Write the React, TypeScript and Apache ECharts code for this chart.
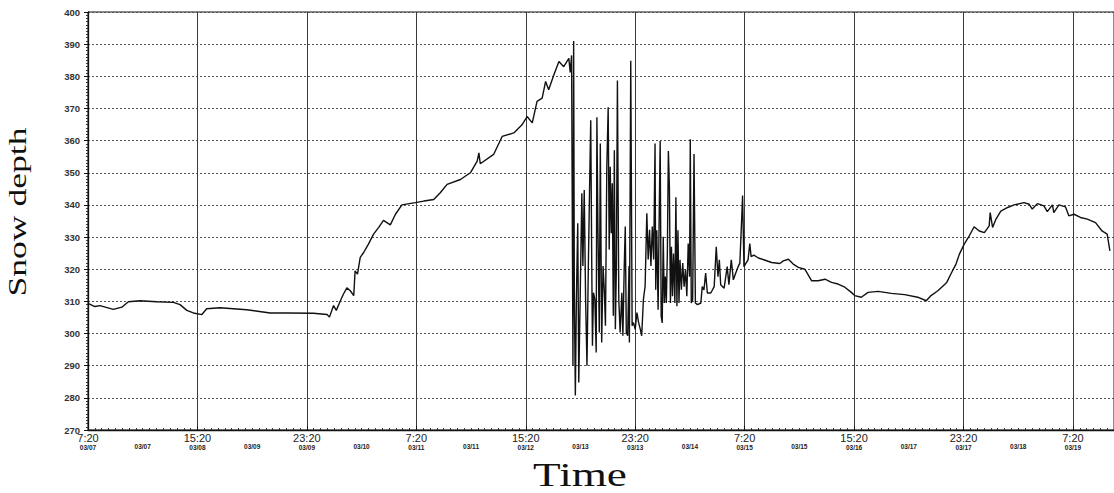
import React, { useEffect, useRef } from "react";
import * as echarts from "echarts";

// hours since 7:20 on 03/07
const hours = [
  0, 2, 3.5, 7.4, 9.9, 11.8, 15.2, 20.1, 25, 26.9, 28.9, 30.8, 33.3, 34.7, 38.6, 46.4, 53.3, 58.1, 65.9, 69.9,
  70.6, 71.8, 72.6, 73.8, 74.7, 75.7, 76.7, 77.7, 78.1, 78.8, 79.6, 80.6, 82.0, 83.5, 85, 86.4, 88.4, 89.9, 91.8, 95.7,
  98.2, 101.1, 103, 105, 108.9, 111.8, 113.8, 114.3, 114.7, 118.6, 121.1, 124.5, 126.9, 128.4, 129.9, 131.3, 132.8, 133.8, 134.7, 136.2,
  137.7, 139.1, 140.6, 141.0, 141.4,
  141.8, 142.0, 142.2, 142.5, 142.8, 143.2, 143.5, 143.9, 144.4, 144.7, 145.1, 145.5, 145.9, 146.3, 146.7, 147.0, 147.3, 147.5, 147.8, 148.2,
  148.6, 148.8, 149.1, 149.5, 149.8, 150.2, 150.6, 151.0, 151.3, 151.7, 152.1, 152.4, 152.7, 153.0, 153.3, 153.6, 153.9, 154.2, 154.5, 154.8,
  155.2, 155.6, 156.1, 156.4, 156.8, 157.1, 157.4, 157.8, 158.2, 158.3, 158.7, 159.1, 159.5, 160.0, 160.5, 161.0, 161.5, 161.9, 162.4, 162.9,
  163.4, 163.8, 164.2, 164.6, 165.0, 165.4, 165.8,
  166.0, 166.3, 166.7, 167.0, 167.3, 167.6, 167.9, 168.2, 168.5, 168.8, 169.1, 169.4, 169.7, 170.0, 170.3, 170.6, 170.9, 171.2, 171.6, 171.9,
  172.2, 172.5, 172.8, 173.1, 173.5, 173.9, 174.3, 174.7, 175.1, 175.5, 175.9, 176.1, 176.4, 176.8, 177.2, 177.6, 178.2, 179.2, 179.6, 180.1,
  180.6, 181.1, 182.1, 183.1, 183.7, 184.2, 184.6, 185.0, 186.0, 186.9, 187.4, 188.1, 188.7, 189.4, 190.1, 190.6, 191.0, 191.4, 191.8, 192.4,
  193.0, 193.5, 193.9, 194.7,
  196, 198, 199.9, 202.3, 203.3, 204.8, 206.2, 207.7, 209.6, 211.6, 213.5, 215.5, 217.4, 219.3, 221.3, 223.2, 224.2, 226.1, 228.1, 231,
  234.9, 238.8, 242.6, 245.1, 246.5, 248.5, 251.1, 252.3, 253.8, 254.8, 256.2, 257.7, 259.1, 260.6, 262.1, 263.5, 263.8, 264.5, 265.5, 266.9,
  268.9, 270.8, 273.7, 275.2, 276.1, 277.6, 279.5, 280.5, 282, 282.4, 283.9, 285.8, 286.8, 288.3, 290.2, 292.2, 294.6, 296.5, 298, 298.8,
];

const depth = [
  309.4, 308.4, 308.7, 307.5, 308.2, 309.9, 310.2, 309.9, 309.7, 309, 307.2, 306.4, 305.9, 307.7, 308, 307.4, 306.4, 306.4, 306.3, 305.9,
  305.1, 308.7, 307.2, 310.2, 312.3, 314.2, 313.3, 311.8, 319.5, 318.5, 323.7, 325.2, 327.8, 330.9, 333, 335.2, 333.8, 337.1, 340, 340.7,
  341.2, 341.7, 343.8, 346.4, 347.9, 350, 353.6, 356.2, 352.8, 355.7, 361.3, 362.4, 364.9, 367.5, 365.5, 372.2, 373.2, 378.4, 375.8, 380.4,
  384.6, 383, 385.6, 381.2, 386.5,
  290, 391, 312.7, 280.7, 310.6, 334.3, 284.8, 310.6, 343.6, 321, 344.6, 310.6, 290, 321, 347.7, 366.3, 321, 296.2, 312.7, 310.6,
  294.1, 367.3, 333.3, 300.3, 359.1, 297.2, 321, 312.7, 302.4, 351.9, 370.4, 326.1, 351.9, 331.2, 346.7, 305.5, 357, 301.3, 321, 378.7,
  310.6, 300.3, 312.7, 299.3, 321, 333.3, 300.3, 299.3, 321, 297.2, 384.8, 302.4, 303.4, 301.3, 306.5, 303.4, 301.3, 299.3, 310.6, 314.7,
  337.4, 323, 332.3, 321, 333.3, 323, 359.1,
  313.6, 332.1, 307.4, 335.2, 359.9, 305.4, 303.3, 330.1, 309.5, 317.7, 309.5, 324.9, 356.8, 345.5, 309.5, 327, 311.6, 324.9, 309.5, 342.4,
  308.5, 332.1, 309.5, 322.9, 313.6, 321.9, 314.6, 319.8, 311.6, 328, 317.7, 360.4, 309.5, 310.5, 355.8, 309.5, 309, 309.5, 314.6, 313.6,
  318.8, 312.6, 312.6, 314.6, 327, 317.7, 322.9, 315.2, 314.1, 320.8, 315.2, 322.9, 316.7, 318.8, 320.8, 321.9, 332.1, 342.9, 320.8, 321.9,
  322.9, 328, 323.9, 324.4,
  323.5, 322.8, 322.1, 321.8, 322.6, 323.1, 321.6, 320.6, 320, 316.4, 316.4, 316.9, 315.9, 315.4, 314.4, 312.8, 311.8, 311.3, 312.8, 313.1,
  312.5, 312.1, 311.3, 310.2, 311.8, 313.3, 315.9, 318.5, 321.6, 324.7, 327.8, 330.4, 333.2, 331.9, 331.4, 333.5, 337.6, 333, 335.6, 338.1,
  339.2, 340, 340.7, 340.2, 338.7, 340.4, 339.7, 337.9, 340, 337.6, 340, 339.4, 336.6, 337.1, 336.1, 335.6, 334.5, 331.9, 330.9, 325.7,
];

const majorTimes = ["7:20", "15:20", "23:20", "7:20", "15:20", "23:20", "7:20", "15:20", "23:20", "7:20"];
const majorDates = ["03/07", "03/08", "03/09", "03/11", "03/12", "03/13", "03/15", "03/16", "03/17", "03/19"];
const midDates = ["03/07", "03/09", "03/10", "03/11", "03/13", "03/14", "03/15", "03/17", "03/18"];

const xTitle = "Time";
const yTitle = "Snow depth";

export default function App() {
  const ref = useRef<HTMLDivElement>(null);
  useEffect(() => {
    const chart = echarts.init(ref.current!, null, { renderer: "svg" });
    const data = hours.map((h, i) => [h, depth[i]]);
    const sans = "Liberation Sans";
    chart.setOption({
      animation: false,
      backgroundColor: "#ffffff",
      grid: {
        left: 88,
        top: 12,
        width: 1028,
        height: 418,
        show: true,
        borderColor: "#111",
        borderWidth: 1,
        backgroundColor: "transparent",
      },
      xAxis: [
        {
          type: "value",
          min: 0,
          max: 300,
          interval: 32,
          position: "bottom",
          axisLine: { show: true, lineStyle: { color: "#111", width: 1.3 } },
          axisTick: { show: true, inside: true, length: 4, lineStyle: { color: "#111" } },
          minorTick: { show: true, splitNumber: 16, length: 2, lineStyle: { color: "#333" } },
          splitLine: { show: true, lineStyle: { color: "#3a3a3a", width: 1, type: "solid" } },
          axisLabel: {
            margin: 2,
            showMaxLabel: false,
            formatter: (v: number) => {
              const idx = Math.round(v / 32);
              if (Math.abs(v - idx * 32) > 0.01 || idx >= majorTimes.length) return "";
              return `{t|${majorTimes[idx]}}\n{d|${majorDates[idx]}}`;
            },
            rich: {
              t: { fontSize: 11, lineHeight: 11, fontFamily: sans, color: "#222" },
              d: { fontSize: 6.5, lineHeight: 8, fontFamily: sans, fontWeight: "bold", color: "#222" },
            },
          },
        },
        {
          type: "value",
          min: 0,
          max: 300,
          interval: 16,
          position: "bottom",
          axisLine: { show: false },
          axisTick: { show: false },
          splitLine: { show: false },
          axisLabel: {
            margin: 13,
            showMaxLabel: false,
            fontSize: 6.5,
            fontWeight: "bold",
            fontFamily: sans,
            color: "#222",
            formatter: (v: number) => {
              const idx = Math.round(v / 16);
              if (Math.abs(v - idx * 16) > 0.01 || idx % 2 === 0) return "";
              const k = (idx - 1) / 2;
              return k < midDates.length ? midDates[k] : "";
            },
          },
        },
      ],
      yAxis: {
        type: "value",
        min: 270,
        max: 400,
        interval: 10,
        axisLine: { show: true, lineStyle: { color: "#111", width: 1.3 } },
        axisTick: { show: true, length: 4, lineStyle: { color: "#111" } },
        minorTick: { show: true, splitNumber: 10, length: 2, lineStyle: { color: "#333" } },
        splitLine: { show: true, lineStyle: { color: "#555", width: 1, type: [2, 2] } },
        axisLabel: { margin: 8, fontSize: 9.5, fontWeight: "bold", fontFamily: sans, color: "#333" },
      },
      graphic: [
        {
          type: "text",
          x: 580,
          y: 475,
          scaleX: 1.37,
          style: {
            text: xTitle,
            fontSize: 33,
            fontFamily: "Liberation Serif",
            fill: "#111",
            align: "center",
            verticalAlign: "middle",
          },
        },
        {
          type: "text",
          x: 17,
          y: 212,
          rotation: Math.PI / 2,
          scaleX: 1.37,
          style: {
            text: yTitle,
            fontSize: 26,
            fontFamily: "Liberation Serif",
            fill: "#111",
            align: "center",
            verticalAlign: "middle",
          },
        },
      ],
      series: [
        {
          type: "line",
          xAxisIndex: 0,
          data,
          showSymbol: false,
          symbol: "none",
          lineStyle: { color: "#111", width: 1.4 },
        },
      ],
    });
    return () => chart.dispose();
  }, []);
  return (
    <div
      ref={ref}
      style={{ width: 1114, height: 493, position: "absolute", left: 0, top: 0, background: "#fff" }}
    />
  );
}
